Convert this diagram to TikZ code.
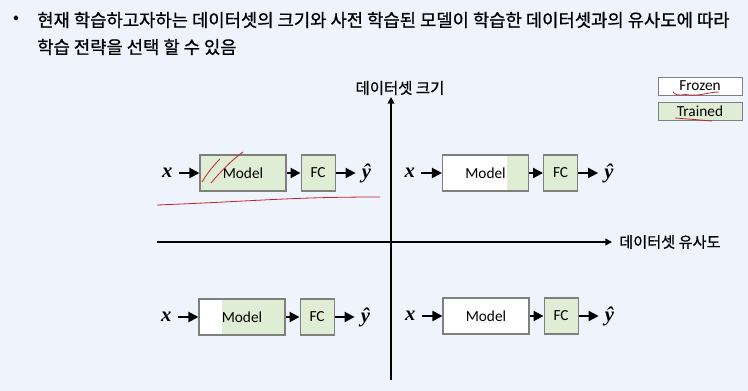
\documentclass[tikz,border=0pt]{standalone}
\usepackage{amsmath}
\usepackage{fontspec}
\setmainfont{Noto Sans CJK KR}
\newfontfamily\headfont{Noto Sans CJK KR}[FakeBold=0.8]
\newfontfamily\latinfont{Carlito}
\newfontfamily\symfont{Liberation Serif}[UprightFont=* Bold Italic]
\usetikzlibrary{calc,positioning,arrows.meta}
\definecolor{pagebg}{HTML}{EEF3FC}
\definecolor{trained}{HTML}{DFEDD5}
\definecolor{boxline}{HTML}{7F7F7F}
\definecolor{pen}{HTML}{C8202E}

\begin{document}
\begin{tikzpicture}[x=0.75pt, y=-0.75pt]
				\tikzset{
					block/.style = {draw=boxline, line width=0.8pt, minimum height=27pt, inner sep=0pt, font=\latinfont\fontsize{11.5}{13}\selectfont},
					modelbox/.style = {block, minimum width=64.5pt},
					fcbox/.style = {block, minimum width=25.5pt, fill=trained},
					frozen/.style = {fill=white},
					alltrained/.style = {fill=trained},
					greenfrom/.style = {fill=white, path picture={\fill[trained] ($(path picture bounding box.north west)!#1!(path picture bounding box.north east)$) rectangle (path picture bounding box.south east);}},
					headtrained/.style = {greenfrom=0.75},
					tailfrozen/.style = {greenfrom=0.27},
					sym/.style = {inner sep=4.5pt, font=\symfont\fontsize{15.5}{17}\selectfont},
					flow/.style = {line width=1.5pt, -{Triangle[length=7.5pt,width=7.5pt]}},
					axis/.style = {line width=1.5pt, -{Triangle[length=5pt,width=5pt]}},
					legend/.style = {draw=boxline, line width=0.6pt, minimum width=63pt, minimum height=13.5pt, inner sep=0pt, font=\latinfont\fontsize{11.5}{13}\selectfont},
					scribble/.style = {draw=pen, line width=0.6pt}
				}
				\fill[pagebg] (0,0) rectangle (748,391);
				\useasboundingbox (0,0) rectangle (748,391);
				% text
				\node (dot) at (16,20) {\fontsize{13}{15}\selectfont •};
				\node[anchor=west, inner sep=0pt] (line1) at (37,20) {\headfont\fontsize{13.3}{16}\selectfont 현재 학습하고자하는 데이터셋의 크기와 사전 학습된 모델이 학습한 데이터셋과의 유사도에 따라};
				\node[anchor=west, inner sep=0pt] (line2) at (37,47) {\headfont\fontsize{13.3}{16}\selectfont 학습 전략을 선택 할 수 있음};
				% axes
				\coordinate (vbot) at (391,380);
				\coordinate (vtop) at (391,97);
				\coordinate (hleft) at (157,242);
				\coordinate (hright) at (612,242);
				\draw[axis] (vbot) -- (vtop);
				\draw[axis] (hleft) -- (hright);
				\node (ylab) at (400,88) {\headfont\fontsize{11.6}{13}\selectfont 데이터셋 크기};
				\node[anchor=west, inner sep=0pt] (xlab) at (619,242) {\headfont\fontsize{11.4}{13}\selectfont 데이터셋 유사도};
				% four cases
				\foreach \q/\mx/\my/\kind in {tl/243/173/alltrained, tr/485.5/173/headtrained,
					bl/242/317/tailfrozen, br/486/316/frozen}{
					\node[modelbox, \kind] (m\q) at (\mx,\my) {Model};
					\node[fcbox, right=10.5pt of m\q] (fc\q) {FC};
					\node[sym, left=15.5pt of m\q] (x\q) {x};
					\node[sym, right=15pt of fc\q] (y\q) {\^y};
					\draw[flow] (x\q) -- (m\q);
					\draw[flow] (m\q) -- (fc\q);
					\draw[flow] (fc\q) -- (y\q);
				}
				% legend
				\node[legend, fill=white] (frz) at (700,86) {Frozen};
				\node[legend, fill=trained] (trn) at (700,111) {Trained};
				% pen marks
				\draw[scribble] (157,205) .. controls (260,201) and (290,197) .. (380,197);
				\draw[scribble] (202,182) .. controls (208,172) and (214,165) .. (220,159);
				\draw[scribble] (211,183) .. controls (222,170) and (232,160) .. (243,152);
				\draw[scribble] (673,92) .. controls (678,98) and (684,93) .. (690,95) .. controls (700,96) and (710,92) .. (719,92);
				\draw[scribble] (675,118) .. controls (688,119) and (700,120) .. (712,121);
			\end{tikzpicture}
\end{document}
